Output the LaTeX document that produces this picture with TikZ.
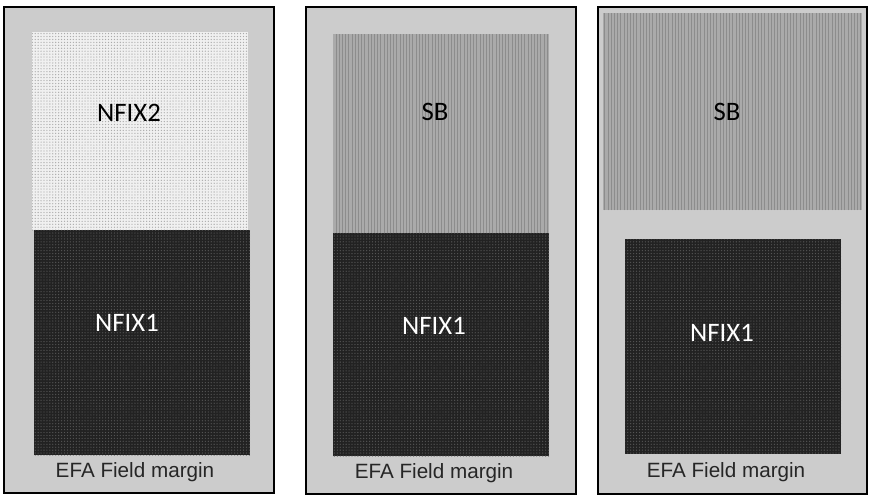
\documentclass[tikz,border=0pt]{standalone}
\usepackage{fontspec}
\usepackage{tikz}
\usetikzlibrary{patterns.meta}
\newfontfamily\labelfont{Carlito}
\newfontfamily\marginfont{Liberation Sans}
\definecolor{marginGray}{RGB}{204,204,204}
\definecolor{nfixLight}{RGB}{240,240,240}
\definecolor{nfixLightDot}{RGB}{170,170,170}
\definecolor{sbGray}{RGB}{170,170,170}
\definecolor{sbLine}{RGB}{140,140,140}
\definecolor{nfixDark}{RGB}{34,34,34}
\definecolor{nfixDarkDot}{RGB}{85,85,85}

\begin{document}
\begin{tikzpicture}[x=0.75pt,y=0.75pt,yscale=-1,xscale=1,
    field/.style={draw=black,line width=2pt,fill=marginGray},
    nfixtwo/.style={fill=nfixLight,postaction={pattern={Dots[distance=2.2pt,radius=0.5pt]},pattern color=nfixLightDot}},
    sbzone/.style={fill=sbGray,postaction={pattern={Lines[angle=90,distance=2.4pt,line width=0.5pt]},pattern color=sbLine}},
    nfixone/.style={fill=nfixDark,postaction={pattern={Dots[distance=2.2pt,radius=0.5pt]},pattern color=nfixDarkDot}},
    zonelabel/.style={font=\labelfont\fontsize{20}{24}\selectfont,inner sep=0.75pt},
    marginlabel/.style={font=\marginfont\fontsize{15.5}{18}\selectfont,text=black!85,inner sep=0.75pt}]
        \useasboundingbox (0,0) rectangle (874,500);

        %Shape: Rectangle [id:panel1]
        \draw [field] (4,7) rectangle (274,493);
        %Shape: Rectangle [id:nfix2a]
        \path [nfixtwo] (32,32) rectangle (248,230);
        %Shape: Rectangle [id:nfix1a]
        \path [nfixone] (34,230) rectangle (250,455);

        %Shape: Rectangle [id:panel2]
        \draw [field] (306,7) rectangle (576,494);
        %Shape: Rectangle [id:sba]
        \path [sbzone] (333,34) rectangle (549,233);
        %Shape: Rectangle [id:nfix1b]
        \path [nfixone] (333,233) rectangle (549,456);

        %Shape: Rectangle [id:panel3]
        \draw [field] (598,7) rectangle (867,494);
        %Shape: Rectangle [id:sbb]
        \path [sbzone] (603,13) rectangle (862,210);
        %Shape: Rectangle [id:nfix1c]
        \path [nfixone] (625,239) rectangle (841,454);

        % Text Node
        \node [zonelabel] (nfixTwoA) at (129,113) {NFIX2};
        % Text Node
        \node [zonelabel,text=white] (nfixOneA) at (127,323) {NFIX1};
        % Text Node
        \node [marginlabel] (marginA) at (135,472) {EFA Field margin};
        % Text Node
        \node [zonelabel] (sbA) at (435,112) {SB};
        % Text Node
        \node [zonelabel,text=white] (nfixOneB) at (434,326) {NFIX1};
        % Text Node
        \node [marginlabel] (marginB) at (434,473) {EFA Field margin};
        % Text Node
        \node [zonelabel] (sbB) at (727,112) {SB};
        % Text Node
        \node [zonelabel,text=white] (nfixOneC) at (722,333) {NFIX1};
        % Text Node
        \node [marginlabel] (marginC) at (726,472) {EFA Field margin};

\end{tikzpicture}
\end{document}
